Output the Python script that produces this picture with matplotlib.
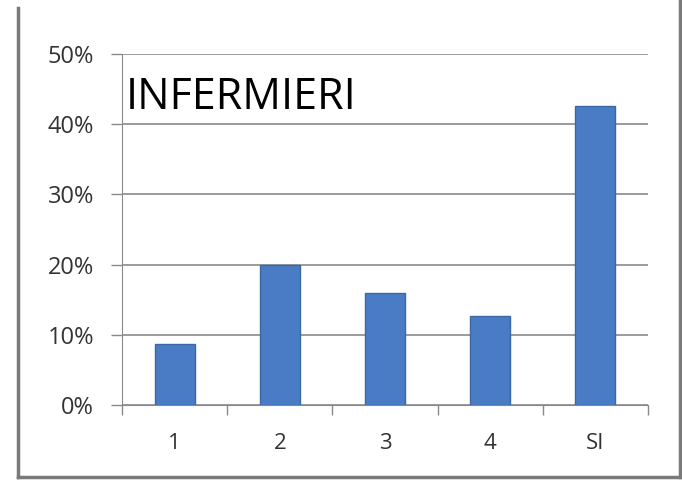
import numpy as np
import matplotlib.pyplot as plt
from matplotlib.lines import Line2D
from matplotlib.ticker import FuncFormatter

categories = ['1', '2', '3', '4', 'SI']
values = [8.7, 19.9, 16.0, 12.7, 42.6]
title = 'INFERMIERI'

plt.rcParams['font.family'] = ['Open Sans', 'DejaVu Sans']

W, H = 682, 480
fig = plt.figure(figsize=(W / 100, H / 100), dpi=100)
ax = fig.add_axes([122 / W, 1 - 405 / H, (648 - 122) / W, (405 - 54) / H])

x = np.arange(len(categories))
ax.bar(x, values, width=0.38, color='#4a7cc6', edgecolor='#3b67a6', linewidth=1, zorder=3)

ax.set_xlim(-0.5, len(categories) - 0.5)
ax.set_ylim(0, 50)
ax.set_yticks(np.arange(0, 51, 10))
ax.yaxis.set_major_formatter(FuncFormatter(lambda v, p: f'{v:.0f}%'))
ax.yaxis.grid(True, color='#8a8a8a', linewidth=1.2, zorder=0)

ax.set_xticks(np.arange(-0.5, len(categories), 1))
ax.set_xticklabels([])
ax.set_xticks(x, minor=True)
ax.set_xticklabels(categories, minor=True)
ax.tick_params(axis='x', which='minor', length=0, pad=20, labelsize=16, labelcolor='#333333')
ax.tick_params(axis='x', which='major', length=7, width=1, color='#8a8a8a', direction='out')
ax.tick_params(axis='y', length=8, width=1, color='#8a8a8a', labelsize=17, labelcolor='#333333', pad=12)

for s in ['top', 'right']:
    ax.spines[s].set_visible(False)
ax.spines['left'].set_color('#8a8a8a')
ax.spines['bottom'].set_color('#8a8a8a')

ax.text(0.008, 0.875, title, transform=ax.transAxes, fontsize=31, va='center', ha='left',
        color='black')

# frame around the picture (left, right, bottom)
border = dict(transform=fig.transFigure, color='#7a7a7a', linewidth=2.5)
fig.lines.append(Line2D([18 / W, 18 / W], [3 / H, 1 - 8 / H], **border))
fig.lines.append(Line2D([680 / W, 680 / W], [3 / H, 1], **border))
fig.lines.append(Line2D([18 / W, 680 / W], [3 / H, 3 / H], **border))

fig.savefig('out.png', dpi=100)
